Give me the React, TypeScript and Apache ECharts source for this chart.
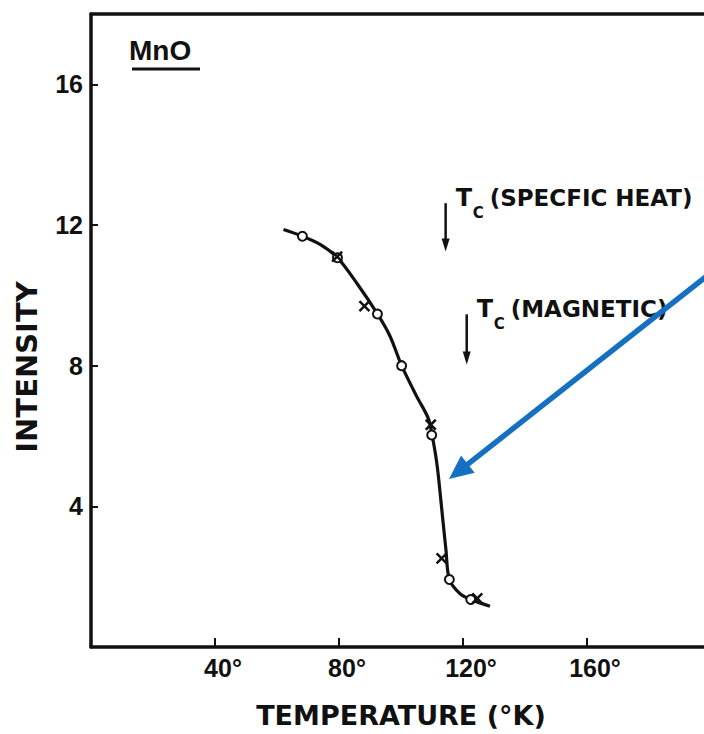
import React, { useEffect, useRef } from "react";
import * as echarts from "echarts";

// Smooth curve drawn through the measurements (temperature °K, intensity)
const curveTemperature = [62.1, 68.2, 73.9, 79.5, 85.7, 92.4, 96.5, 100.2, 105.1, 108.8, 110.3, 111.7, 113.4, 114.5, 115.6, 119.0, 122.5, 128.7];
const curveIntensity = [11.87, 11.68, 11.45, 11.07, 10.35, 9.47, 8.83, 8.0, 7.12, 6.5, 5.9, 5.13, 3.7, 2.76, 1.92, 1.52, 1.35, 1.16];

// Open-circle points
const circleTemperature = [68.2, 79.5, 92.4, 100.2, 109.9, 115.6, 122.5];
const circleIntensity = [11.68, 11.07, 9.47, 8.0, 6.03, 1.92, 1.35];

// Cross points
const crossTemperature = [79.4, 88.2, 109.6, 113.1, 124.6];
const crossIntensity = [11.1, 9.69, 6.32, 2.52, 1.38];

// Axis ticks
const xTicks = [40, 80, 120, 160];
const yTicks = [4, 8, 12, 16];

// Tc annotations: arrow temperature, arrow top/bottom intensity
const tcSpecificHeat = { t: 114.4, top: 12.62, bottom: 11.25, label: "(SPECFIC HEAT)" };
const tcMagnetic = { t: 121.2, top: 9.46, bottom: 8.03, label: "(MAGNETIC)" };

const INK = "#111";
const BLUE = "#1670c2";
const LETTER = "DejaVu Sans, Liberation Sans, sans-serif";
const NUM = "Liberation Sans, Arial, sans-serif";

export default function App() {
  const ref = useRef<HTMLDivElement>(null);

  useEffect(() => {
    if (!ref.current) return;
    const chart = echarts.init(ref.current, undefined, { renderer: "svg" });

    const zip = (a: number[], b: number[]) => a.map((v, i) => [v, b[i]]);

    chart.setOption({
      animation: false,
      backgroundColor: "#fff",
      grid: { left: 91, top: 14, width: 620, height: 636, containLabel: false },
      xAxis: [
        {
          type: "value",
          min: 0,
          max: 200,
          interval: 40,
          position: "bottom",
          axisLine: { show: true, onZero: false, lineStyle: { color: INK, width: 3.5 } },
          axisTick: { show: true, inside: true, length: 9, lineStyle: { color: INK, width: 2 } },
          axisLabel: {
            show: true,
            color: INK,
            fontFamily: NUM,
            fontWeight: "bold",
            fontSize: 25,
            margin: 8,
            padding: [0, 0, 0, 16],
            showMinLabel: false,
            showMaxLabel: false,
            formatter: (v: number) => (xTicks.includes(v) ? `${v}°` : ""),
          },
          splitLine: { show: false },
          name: "TEMPERATURE (°K)",
          nameLocation: "middle",
          nameGap: 55,
          nameTextStyle: { color: INK, fontFamily: LETTER, fontWeight: "bold", fontSize: 27 },
        },
        {
          type: "value",
          min: 0,
          max: 200,
          position: "top",
          axisLine: { show: true, onZero: false, lineStyle: { color: INK, width: 3.5 } },
          axisTick: { show: false },
          axisLabel: { show: false },
          splitLine: { show: false },
        },
      ],
      yAxis: {
        type: "value",
        min: 0,
        max: 18,
        interval: 4,
        axisLine: { show: true, onZero: false, lineStyle: { color: INK, width: 3.5 } },
        axisTick: { show: true, inside: true, length: 7, lineStyle: { color: INK, width: 2 } },
        axisLabel: {
          show: true,
          color: INK,
          fontFamily: NUM,
          fontWeight: "bold",
          fontSize: 25,
          margin: 8,
          showMinLabel: false,
          showMaxLabel: false,
          formatter: (v: number) => (yTicks.includes(v) ? `${v}` : ""),
        },
        splitLine: { show: false },
      },
      series: [
        {
          type: "line",
          data: zip(curveTemperature, curveIntensity),
          smooth: 0.3,
          showSymbol: false,
          symbol: "none",
          lineStyle: { color: INK, width: 3.2 },
          z: 2,
        },
        {
          type: "scatter",
          data: zip(circleTemperature, circleIntensity),
          symbol: "circle",
          symbolSize: 9,
          itemStyle: { color: "#fff", borderColor: INK, borderWidth: 2, opacity: 1 },
          z: 3,
        },
        {
          type: "scatter",
          data: zip(crossTemperature, crossIntensity),
          symbol: "path://M0,0L10,10M10,0L0,10",
          symbolSize: 10,
          itemStyle: { color: "none", borderColor: INK, borderWidth: 2.5, opacity: 1 },
          z: 4,
        },
      ],
    });

    const px = (t: number, i: number) => chart.convertToPixel({ gridIndex: 0 }, [t, i]) as number[];

    const tcGroup = (tc: typeof tcSpecificHeat) => {
      const [ax, ayTop] = px(tc.t, tc.top);
      const ayBot = px(tc.t, tc.bottom)[1];
      const tY = ayTop - 5;
      return [
        { type: "line", shape: { x1: ax, y1: ayTop, x2: ax, y2: ayBot - 10 }, style: { stroke: INK, lineWidth: 2.5 } },
        { type: "polygon", shape: { points: [[ax - 4, ayBot - 13], [ax + 4, ayBot - 13], [ax, ayBot]] }, style: { fill: INK } },
        {
          type: "text",
          x: ax + 10,
          y: tY,
          style: { text: "T", fill: INK, font: `bold 24px ${LETTER}`, align: "left", textAlign: "left", verticalAlign: "middle", textVerticalAlign: "middle" },
        },
        {
          type: "text",
          x: ax + 27,
          y: tY + 15,
          style: { text: "C", fill: INK, font: `bold 15px ${LETTER}`, align: "left", textAlign: "left", verticalAlign: "middle", textVerticalAlign: "middle" },
        },
        {
          type: "text",
          x: ax + 44,
          y: tY,
          style: { text: tc.label, fill: INK, font: `bold 23px ${LETTER}`, align: "left", textAlign: "left", verticalAlign: "middle", textVerticalAlign: "middle" },
        },
      ];
    };

    // Blue arrow pointing at the curve
    const tip = [449, 479];
    const tail = [712, 272];
    const dx = tail[0] - tip[0];
    const dy = tail[1] - tip[1];
    const len = Math.hypot(dx, dy);
    const ux = dx / len;
    const uy = dy / len;
    const headLen = 24;
    const headHalf = 11;
    const base = [tip[0] + ux * headLen, tip[1] + uy * headLen];
    const perp = [-uy, ux];

    chart.setOption({
      graphic: [
        {
          type: "text",
          x: 27,
          y: 367,
          rotation: Math.PI / 2,
          style: { text: "INTENSITY", fill: INK, font: `bold 29px ${LETTER}`, align: "center", textAlign: "center", verticalAlign: "middle", textVerticalAlign: "middle" },
        },
        {
          type: "text",
          x: 129,
          y: 50,
          style: { text: "MnO", fill: INK, font: `bold 28px ${NUM}`, align: "left", textAlign: "left", verticalAlign: "middle", textVerticalAlign: "middle" },
        },
        { type: "line", shape: { x1: 132, y1: 69, x2: 200, y2: 69 }, style: { stroke: INK, lineWidth: 3 } },
        ...tcGroup(tcSpecificHeat),
        ...tcGroup(tcMagnetic),
        {
          type: "line",
          shape: { x1: base[0] - ux * 2, y1: base[1] - uy * 2, x2: tail[0], y2: tail[1] },
          style: { stroke: BLUE, lineWidth: 5.5 },
          z: 10,
        },
        {
          type: "polygon",
          shape: {
            points: [
              tip,
              [base[0] + perp[0] * headHalf, base[1] + perp[1] * headHalf],
              [base[0] - perp[0] * headHalf, base[1] - perp[1] * headHalf],
            ],
          },
          style: { fill: BLUE },
          z: 10,
        },
      ],
    });

    return () => chart.dispose();
  }, []);

  return (
    <div style={{ position: "fixed", left: 0, top: 0, width: 704, height: 734, overflow: "hidden", background: "#fff" }}>
      <div ref={ref} style={{ width: 730, height: 734 }} />
    </div>
  );
}
